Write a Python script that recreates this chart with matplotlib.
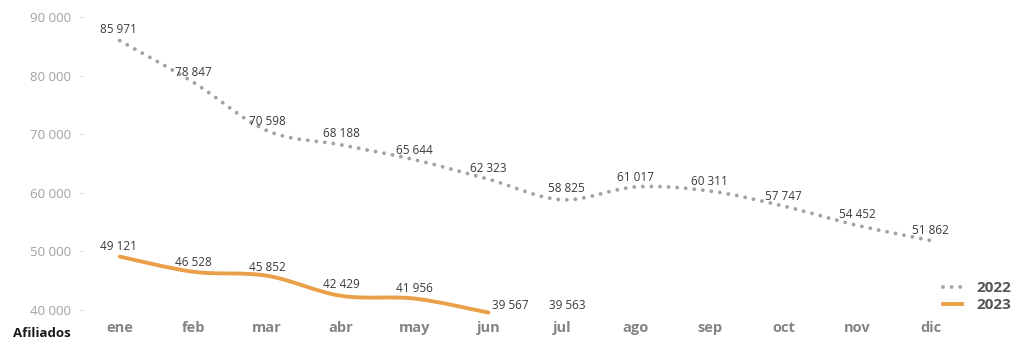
import numpy as np
import matplotlib
matplotlib.use("Agg")
import matplotlib.pyplot as plt
from matplotlib.path import Path
from matplotlib.patches import PathPatch
from matplotlib.lines import Line2D

plt.rcParams['font.family'] = ['Open Sans', 'DejaVu Sans']

meses = ['ene', 'feb', 'mar', 'abr', 'may', 'jun',
         'jul', 'ago', 'sep', 'oct', 'nov', 'dic']
afil_2022 = [85971, 78847, 70598, 68188, 65644, 62323,
             58825, 61017, 60311, 57747, 54452, 51862]
afil_2023 = [49121, 46528, 45852, 42429, 41956, 39567, 39563]
n_line_2023 = 6  # julio only carries a label

# label offsets in points (dx, dy)
off_2022 = [(-1, 8), (0, 7), (0, 7), (0, 8), (0, 7), (0, 8),
            (3, 8), (0, 7), (0, 7), (0, 7), (0, 8), (0, 7)]
off_2023 = [(-1, 7), (0, 7), (0, 6), (0, 8), (0, 7), (16, 5), (4, 5)]

gris = '#a3a3a3'
naranja = '#e9a048'


def fmt(v):
    return f"{v:,}".replace(",", " ")


def smooth_path(xs, ys):
    # Catmull-Rom through the points, written as cubic Bezier segments
    p = np.column_stack([xs, ys]).astype(float)
    n = len(p)
    verts = [tuple(p[0])]
    codes = [Path.MOVETO]
    for i in range(n - 1):
        p0 = p[max(i - 1, 0)]
        p1 = p[i]
        p2 = p[i + 1]
        p3 = p[min(i + 2, n - 1)]
        c1 = p1 + (p2 - p0) / 6.0
        c2 = p2 - (p3 - p1) / 6.0
        verts += [tuple(c1), tuple(c2), tuple(p2)]
        codes += [Path.CURVE4] * 3
    return Path(verts, codes)


fig = plt.figure(figsize=(10.23, 3.42), dpi=100)
ax = fig.add_axes([0.081, 0.0763, 0.865, 0.8825])

x = np.arange(len(meses))

dots = (0, (0.01, 2.2))
p22 = PathPatch(smooth_path(x, afil_2022), fill=False, edgecolor=gris,
                lw=2.8, linestyle=dots, capstyle='round')
ax.add_patch(p22)
p23 = PathPatch(smooth_path(x[:n_line_2023], afil_2023[:n_line_2023]),
                fill=False, edgecolor=naranja, lw=2.8, capstyle='round',
                joinstyle='round')
ax.add_patch(p23)

for i, v in enumerate(afil_2022):
    ax.annotate(fmt(v), (x[i], v), xytext=off_2022[i], textcoords='offset points',
                ha='center', va='center', fontsize=8.5, color='#3a3a3a')
for i, v in enumerate(afil_2023):
    ax.annotate(fmt(v), (x[i], v), xytext=off_2023[i], textcoords='offset points',
                ha='center', va='center', fontsize=8.5, color='#3a3a3a')

ax.set_xlim(-0.5, 11.5)
ax.set_ylim(39000, 90500)
ax.set_yticks([40000, 50000, 60000, 70000, 80000, 90000])
ax.set_yticklabels([fmt(t) for t in ax.get_yticks()])
ax.set_xticks(x)
ax.set_xticklabels(meses)

for s in ax.spines.values():
    s.set_visible(False)
ax.tick_params(axis='y', length=2.5, width=0.8, color='#d6d6d6', pad=6,
               labelsize=9.5, labelcolor='#a0a0a0')
ax.tick_params(axis='x', length=0, pad=4, labelsize=10.5, labelcolor='#858585')
for t in ax.get_xticklabels():
    t.set_fontweight('bold')

fig.text(0.041, 0.026, 'Afiliados', ha='center', va='center',
         fontsize=9.5, fontweight='bold', color='#1a1a1a')

handles = [Line2D([], [], color=gris, lw=2.8, linestyle=dots,
                  dash_capstyle='round'),
           Line2D([], [], color=naranja, lw=2.8)]
fig.legend(handles, ['2022', '2023'], loc='center left',
           bbox_to_anchor=(0.908, 0.132), frameon=False, handlelength=1.3,
           handletextpad=0.9, labelspacing=0.2,
           prop={'size': 11, 'weight': 'bold'}, labelcolor='#555555')

fig.savefig('out.png', dpi=100)
